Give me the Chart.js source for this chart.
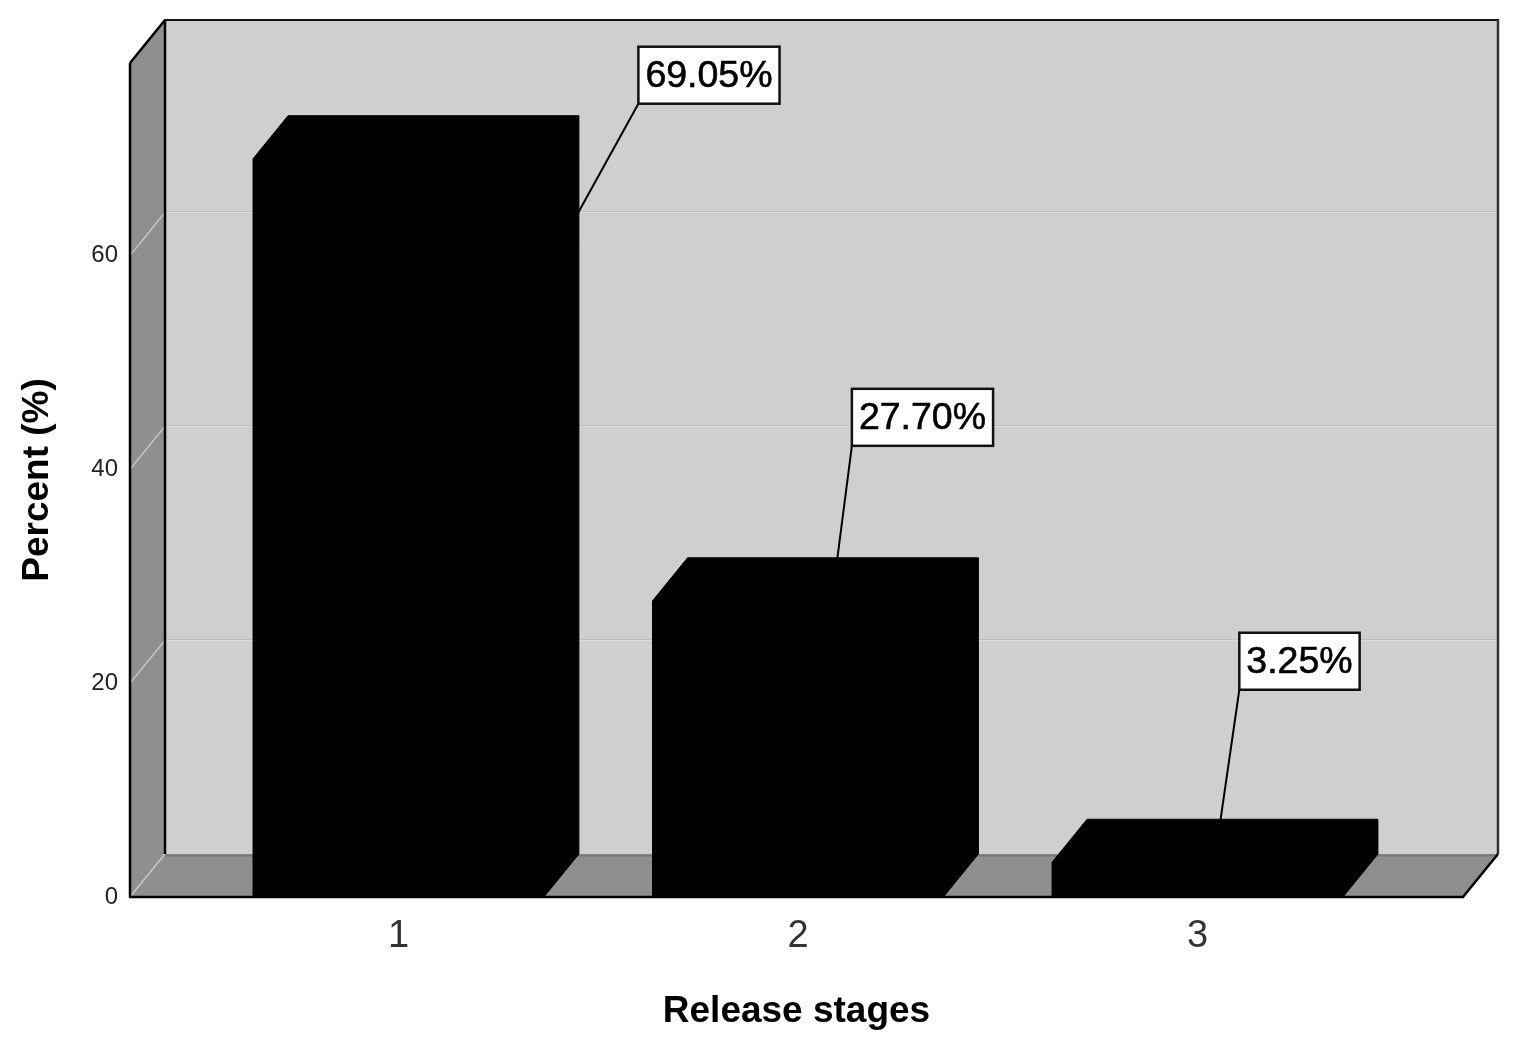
<!DOCTYPE html>
<html><head><meta charset="utf-8">
<script src="https://cdn.jsdelivr.net/npm/chart.js@4.4.0/dist/chart.umd.min.js"></script>
<style>html,body{margin:0;padding:0;background:#fff;overflow:hidden}#wrap{width:1524px;height:1051px}</style>
</head><body><div id="wrap"><canvas id="c" width="1524" height="1051"></canvas></div>
<script>
// ---- data ----
const categories = ['1', '2', '3'];
const percentValues = [69.05, 27.70, 3.25];
const valueLabels = ['69.05%', '27.70%', '3.25%'];
const yTickValues = [0, 20, 40, 60];
const xTitle = 'Release stages';
const yTitle = 'Percent (%)';

// ---- style ----
const DEPTH = { dx: 35, dy: -43 };
const COL = { wall: '#cfcfcf', side: '#8f8f8f', gridDark: '#bdbdbd', gridLight: '#dcdcdc', sideGrid: '#c4c4c4', edge: '#000' };
const CALLOUT_OFFSETS = [ { dx: 310.5, dy: -83.5 }, { dx: 124.5, dy: -183.5 }, { dx: 102, dy: -201 } ];
const LABEL_FONT = '37.5px "Liberation Sans", Arial, sans-serif';

function line(ctx, x1, y1, x2, y2, color, w) {
  ctx.save(); ctx.strokeStyle = color; ctx.lineWidth = w;
  ctx.beginPath(); ctx.moveTo(x1, y1); ctx.lineTo(x2, y2); ctx.stroke(); ctx.restore();
}
function poly(ctx, pts, fill, stroke) {
  ctx.beginPath(); ctx.moveTo(pts[0][0], pts[0][1]);
  for (let i = 1; i < pts.length; i++) ctx.lineTo(pts[i][0], pts[i][1]);
  ctx.closePath(); ctx.fillStyle = fill; ctx.fill();
  if (stroke) { ctx.strokeStyle = stroke; ctx.lineWidth = 1; ctx.stroke(); }
}

const box3d = {
  id: 'box3d',
  beforeDraw(chart) {
    const ctx = chart.ctx;
    ctx.save(); ctx.fillStyle = '#fff'; ctx.fillRect(0, 0, chart.width, chart.height); ctx.restore();
  },
  beforeDatasetsDraw(chart) {
    const { ctx, chartArea: a, scales: { y } } = chart;
    const L = a.left, R = a.right, T = a.top, B = a.bottom, dx = DEPTH.dx, dy = DEPTH.dy;
    ctx.save();
    ctx.fillStyle = COL.wall; ctx.fillRect(L + dx, T + dy, R - L, B - T);
    yTickValues.forEach(v => {
      const py = Math.round(y.getPixelForValue(v) + dy);
      if (v !== 0) line(ctx, L + dx, py - 0.5, R + dx, py - 0.5, COL.gridDark, 1);
      line(ctx, L + dx, py + 0.5, R + dx, py + 0.5, COL.gridLight, 1);
    });
    poly(ctx, [[L, B], [L, T], [L + dx, T + dy], [L + dx, B + dy]], COL.side);
    yTickValues.forEach(v => {
      const py = y.getPixelForValue(v);
      line(ctx, L, py, L + dx, py + dy, COL.sideGrid, 1.5);
    });
    poly(ctx, [[L, B], [R, B], [R + dx, B + dy], [L + dx, B + dy]], COL.side);
    line(ctx, L, B, L + dx, B + dy, COL.sideGrid, 1.5);
    line(ctx, L + dx, B + dy + 1.5, R + dx, B + dy + 1.5, '#777', 2);
    line(ctx, L + dx - 1, T + dy, R + dx + 1, T + dy, '#111', 2);
    line(ctx, R + dx, T + dy, R + dx, B + dy, '#333', 2.5);
    line(ctx, L, T, L, B, '#000', 2.5);
    line(ctx, L + dx, T + dy, L + dx, B + dy, '#000', 2.5);
    line(ctx, L, T, L + dx, T + dy, '#000', 2.5);
    line(ctx, R, B, R + dx, B + dy, '#000', 2.5);
    ctx.restore();
  },
  afterDatasetsDraw(chart) {
    const ctx = chart.ctx, dx = DEPTH.dx, dy = DEPTH.dy;
    const a = chart.chartArea;
    const meta = chart.getDatasetMeta(0);
    ctx.save();
    meta.data.forEach(bar => {
      const { x, y, base, width } = bar.getProps(['x', 'y', 'base', 'width'], true);
      const l = x - width / 2, r = x + width / 2;
      poly(ctx, [[l, base], [l, y], [l + dx, y + dy], [r + dx, y + dy], [r + dx, base + dy], [r, base]], '#000', '#000');
    });
    line(ctx, a.left - 1, a.bottom, a.right + 1, a.bottom, '#000', 2.5);
    ctx.font = LABEL_FONT;
    meta.data.forEach((bar, i) => {
      const { x, y, base } = bar.getProps(['x', 'y', 'base'], true);
      const off = CALLOUT_OFFSETS[i];
      const cx = x + off.dx, cy = y + off.dy;
      const tw = ctx.measureText(valueLabels[i]).width;
      const w = tw + 14, h = 57;
      const bx = cx - w / 2, by = cy - h / 2;
      const tx = x + dx / 2, ty = (y + base) / 2 + dy / 2;
      line(ctx, bx, by + h, tx, ty, '#000', 2);
      ctx.fillStyle = '#fff'; ctx.fillRect(bx, by, w, h);
      ctx.strokeStyle = '#111'; ctx.lineWidth = 2.5; ctx.strokeRect(bx, by, w, h);
      ctx.fillStyle = '#000'; ctx.textAlign = 'center'; ctx.textBaseline = 'middle';
      ctx.fillText(valueLabels[i], cx, cy + 1);
      ctx.lineWidth = 0.6; ctx.strokeStyle = '#000'; ctx.strokeText(valueLabels[i], cx, cy + 1);
    });
    ctx.restore();
  }
};

new Chart(document.getElementById('c'), {
  type: 'bar',
  data: {
    datasets: [{
      data: categories.map((c, i) => ({ x: i + 1, y: percentValues[i] })),
      backgroundColor: '#000',
      borderWidth: 0,
      barPercentage: 0.728,
      categoryPercentage: 1
    }]
  },
  options: {
    responsive: false,
    animation: false,
    devicePixelRatio: 1,
    layout: { padding: { left: 0, right: 61, top: 63, bottom: 0 } },
    plugins: { legend: { display: false }, tooltip: { enabled: false } },
    scales: {
      x: {
        type: 'linear', offset: false, min: 0.328, max: 3.6646,
        grid: { display: false, drawTicks: false }, border: { display: false },
        afterBuildTicks: s => { s.ticks = categories.map((c, i) => ({ value: i + 1 })); },
        afterFit: s => { s.height = 154; },
        ticks: { callback: v => categories[v - 1], padding: 17, color: '#333', font: { family: '"Liberation Sans", Arial, sans-serif', size: 38 }, maxRotation: 0, autoSkip: false },
        title: { display: true, text: xTitle, color: '#000', font: { family: '"Liberation Sans", Arial, sans-serif', size: 37, weight: 'bold' }, padding: { top: 0, bottom: 17 } }
      },
      y: {
        type: 'linear', min: 0, max: 78,
        grid: { display: false, drawTicks: false }, border: { display: false },
        afterBuildTicks: s => { s.ticks = yTickValues.map(v => ({ value: v })); },
        afterFit: s => { s.width = 130; },
        ticks: { padding: 12, color: '#222', font: { family: '"Liberation Sans", Arial, sans-serif', size: 24 } },
        title: { display: true, text: yTitle, color: '#000', font: { family: '"Liberation Sans", Arial, sans-serif', size: 37, weight: 'bold' }, padding: { top: 16, bottom: 0 } }
      }
    }
  },
  plugins: [box3d]
});
</script></body></html>
